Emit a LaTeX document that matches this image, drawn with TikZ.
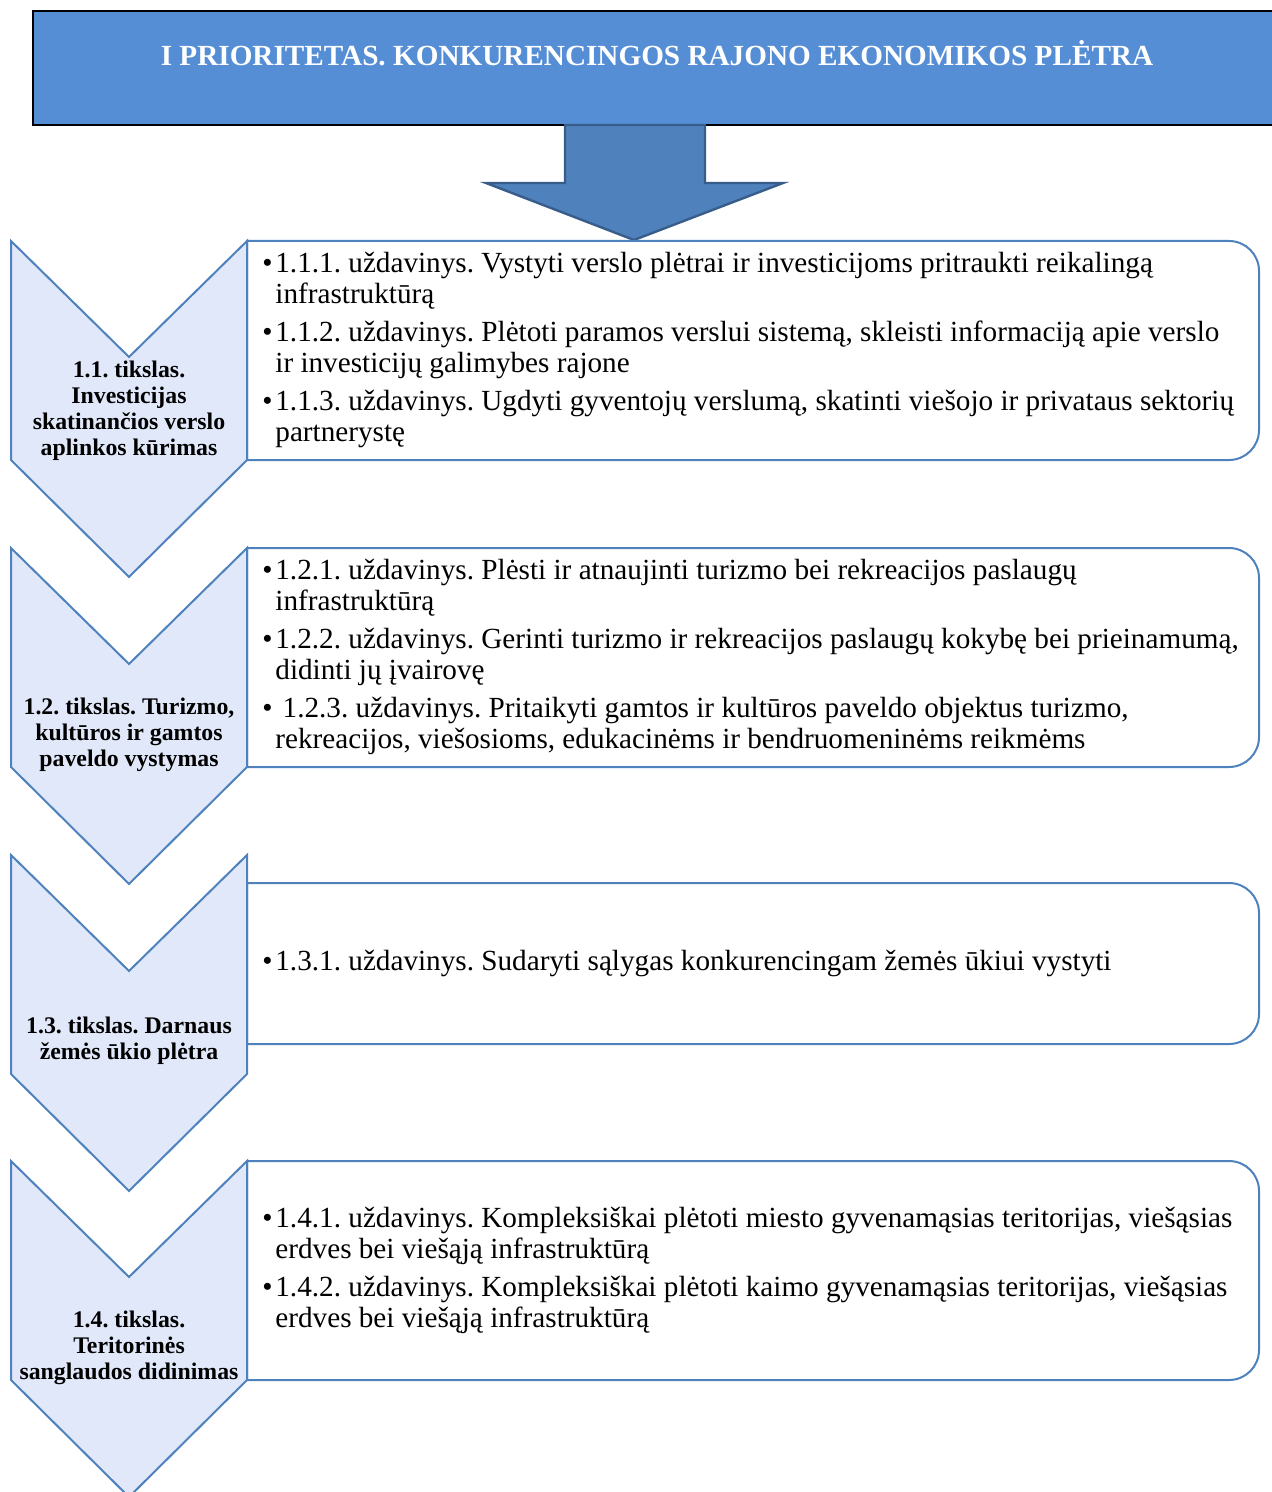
\documentclass[tikz,border=0pt]{standalone}
\usepackage{fontspec}
\setmainfont{Liberation Serif}

\definecolor{headblue}{RGB}{85,142,213}
\definecolor{arrowblue}{RGB}{79,129,189}
\definecolor{arrowedge}{RGB}{56,93,138}
\definecolor{chevfill}{RGB}{225,232,250}
\definecolor{lineblue}{RGB}{79,129,189}

\newcommand{\taskbullet}{\makebox[6.5pt][l]{•}}
\newcommand{\taskindent}{\hspace*{6.5pt}}

\tikzset{
	chevron/.style={draw=lineblue, fill=chevfill, line width=1pt, line join=miter},
	taskbox/.style={draw=lineblue, fill=white, line width=1pt},
	goallabel/.style={align=center, inner sep=0pt, font=\bfseries\fontsize{11.9}{13}\selectfont},
	tasklist/.style={align=left, anchor=west, inner sep=0pt, font=\fontsize{14.6}{15.5}\selectfont}
}

\begin{document}
\frenchspacing
\begin{tikzpicture}[x=0.5pt, y=-0.5pt]
	\useasboundingbox (0,0) rectangle (1271,1492);

	% priority header
	\draw[fill=headblue, draw=black, line width=0.8pt] (33,11) rectangle (1280,125);
	\node[text=white, font=\bfseries\fontsize{14.6}{16}\selectfont] (priority) at (657,53)
		{I PRIORITETAS. KONKURENCINGOS RAJONO EKONOMIKOS PLĖTRA};

	% big down arrow
	\draw[fill=arrowblue, draw=arrowedge, line width=1.2pt, line join=miter]
		(565,125) -- (565,183) -- (486,183) -- (634,240) -- (783,183) -- (705,183) -- (705,125) -- cycle;

	% task boxes (rounded on the right only)
	\foreach \ya/\yb in {241/460, 548/767, 883/1044, 1161/1380} {
		\draw[taskbox] (247,\yb) -- (247,\ya) -- (1229,\ya)
			arc[start angle=-90, end angle=0, radius=30] -- (1259,\yb-30)
			arc[start angle=0, end angle=90, radius=30] -- cycle;
	}

	% goal chevrons
	\foreach \ytop in {241, 548, 855, 1161} {
		\draw[chevron] (11,\ytop) -- (129,\ytop+116) -- (247,\ytop) -- (247,\ytop+219)
			-- (129,\ytop+336) -- (11,\ytop+219) -- cycle;
	}

	% goals
	\node[goallabel] (goal11) at (129,411) {1.1. tikslas.\\Investicijas\\skatinančios verslo\\aplinkos kūrimas};
	\node[goallabel] (goal12) at (129,735) {1.2. tikslas. Turizmo,\\kultūros ir gamtos\\paveldo vystymas};
	\node[goallabel] (goal13) at (129,1041) {1.3. tikslas. Darnaus\\žemės ūkio plėtra};
	\node[goallabel] (goal14) at (129,1348) {1.4. tikslas.\\Teritorinės\\sanglaudos didinimas};

	% tasks
	\node[tasklist] (tasks11) at (262,350) {%
		\taskbullet1.1.1. uždavinys. Vystyti verslo plėtrai ir investicijoms pritraukti reikalingą\\
		\taskindent infrastruktūrą\\[3.5pt]
		\taskbullet1.1.2. uždavinys. Plėtoti paramos verslui sistemą, skleisti informaciją apie verslo\\
		\taskindent ir investicijų galimybes rajone\\[3.5pt]
		\taskbullet1.1.3. uždavinys. Ugdyti gyventojų verslumą, skatinti viešojo ir privataus sektorių\\
		\taskindent partnerystę};
	\node[tasklist] (tasks12) at (262,657) {%
		\taskbullet1.2.1. uždavinys. Plėsti ir atnaujinti turizmo bei rekreacijos paslaugų\\
		\taskindent infrastruktūrą\\[3.5pt]
		\taskbullet1.2.2. uždavinys. Gerinti turizmo ir rekreacijos paslaugų kokybę bei prieinamumą,\\
		\taskindent didinti jų įvairovę\\[3.5pt]
		\taskbullet\ 1.2.3. uždavinys. Pritaikyti gamtos ir kultūros paveldo objektus turizmo,\\
		\taskindent rekreacijos, viešosioms, edukacinėms ir bendruomeninėms reikmėms};
	\node[tasklist] (tasks13) at (262,963) {%
		\taskbullet1.3.1. uždavinys. Sudaryti sąlygas konkurencingam žemės ūkiui vystyti};
	\node[tasklist] (tasks14) at (262,1270) {%
		\taskbullet1.4.1. uždavinys. Kompleksiškai plėtoti miesto gyvenamąsias teritorijas, viešąsias\\
		\taskindent erdves bei viešąją infrastruktūrą\\[3.5pt]
		\taskbullet1.4.2. uždavinys. Kompleksiškai plėtoti kaimo gyvenamąsias teritorijas, viešąsias\\
		\taskindent erdves bei viešąją infrastruktūrą};
\end{tikzpicture}
\end{document}
